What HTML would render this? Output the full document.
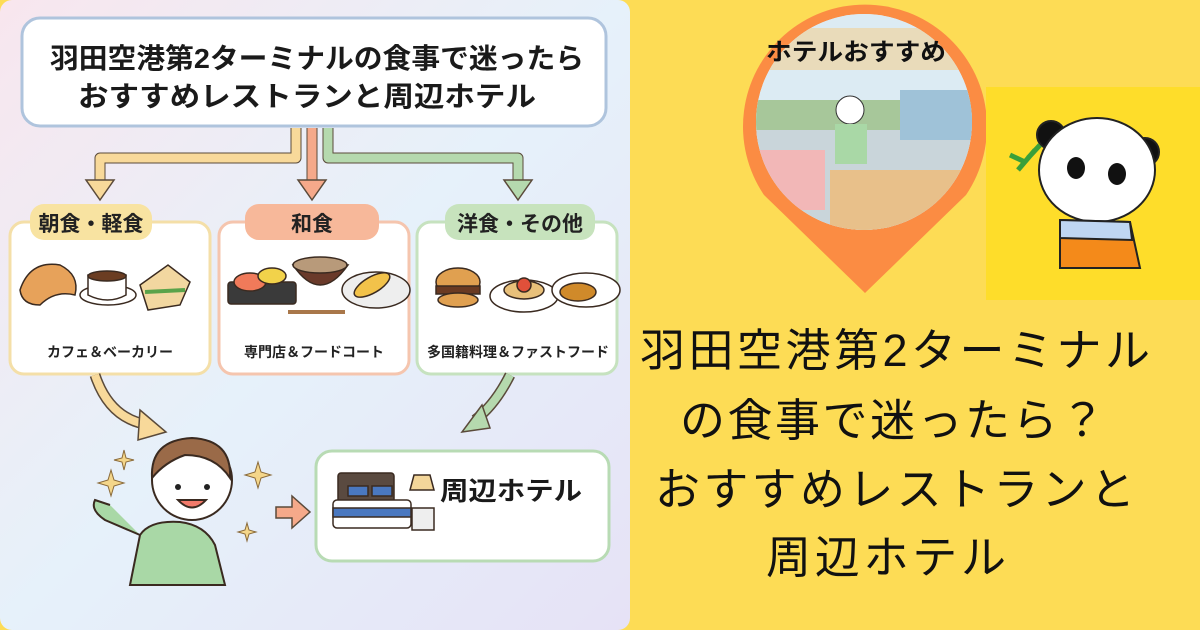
<!DOCTYPE html>
<html><head><meta charset="utf-8"><style>
html,body{margin:0;padding:0;width:1200px;height:630px;overflow:hidden;background:#FDDC55;}
svg text{font-family:"Liberation Sans","Noto Sans CJK JP",sans-serif;}
</style></head><body>
<svg width="1200" height="630" viewBox="0 0 1200 630" xmlns="http://www.w3.org/2000/svg">
<defs>
<linearGradient id="bg" x1="0" y1="0" x2="1" y2="1">
<stop offset="0" stop-color="#F8E6EE"/><stop offset="0.5" stop-color="#E6F1FA"/><stop offset="1" stop-color="#E6E2F6"/>
</linearGradient>
<clipPath id="pc"><circle cx="864" cy="122" r="108"/></clipPath>
</defs>
<rect x="0" y="0" width="1200" height="630" fill="#FDDC55"/>
<rect x="0" y="0" width="630" height="630" rx="12" fill="url(#bg)"/>
<rect x="22" y="18" width="584" height="108" rx="18" fill="#fff" stroke="#AFC4DD" stroke-width="3"/>
<text x="50" y="68" font-size="28" font-weight="bold" fill="#1a1a1a" textLength="534" lengthAdjust="spacingAndGlyphs">羽田空港第2ターミナルの食事で迷ったら</text>
<text x="78" y="106" font-size="28" font-weight="bold" fill="#1a1a1a" textLength="458" lengthAdjust="spacingAndGlyphs">おすすめレストランと周辺ホテル</text>
<g fill="none" stroke-width="9" stroke-linejoin="round">
<path d="M296 128 V158 H100 V180" stroke="#5a4a3a" stroke-width="11"/>
<path d="M296 128 V158 H100 V180" stroke="#F8D99A"/>
<path d="M312 128 V180" stroke="#5a4a3a" stroke-width="11"/>
<path d="M312 128 V180" stroke="#F5A98A"/>
<path d="M328 128 V158 H518 V180" stroke="#5a4a3a" stroke-width="11"/>
<path d="M328 128 V158 H518 V180" stroke="#B5D9AE"/>
</g>
<polygon points="86,180 114,180 100,200" fill="#F8D99A" stroke="#5a4a3a" stroke-width="1.5"/>
<polygon points="298,180 326,180 312,200" fill="#F5A98A" stroke="#5a4a3a" stroke-width="1.5"/>
<polygon points="504,180 532,180 518,200" fill="#B5D9AE" stroke="#5a4a3a" stroke-width="1.5"/>
<rect x="10" y="222" width="200" height="152" rx="14" fill="#fff" stroke="#F4DFA8" stroke-width="3"/>
<rect x="219" y="222" width="190" height="152" rx="14" fill="#fff" stroke="#F5C5AE" stroke-width="3"/>
<rect x="417" y="222" width="200" height="152" rx="14" fill="#fff" stroke="#C6E2BF" stroke-width="3"/>
<rect x="30" y="204" width="122" height="36" rx="14" fill="#F8E3A1"/>
<rect x="245" y="204" width="134" height="36" rx="14" fill="#F7B89A"/>
<rect x="445" y="204" width="150" height="36" rx="14" fill="#C7E3BD"/>
<text x="91" y="231" font-size="21" font-weight="bold" text-anchor="middle" fill="#222">朝食・軽食</text>
<text x="312" y="231" font-size="21" font-weight="bold" text-anchor="middle" fill="#222">和食</text>
<text x="520" y="231" font-size="21" font-weight="bold" text-anchor="middle" fill="#222">洋食・その他</text>
<g stroke="#3a2a20" stroke-width="1.5">
<path d="M20 290 Q30 260 60 265 Q80 275 75 295 Q55 290 40 305 Q22 305 20 290Z" fill="#E7A25A"/>
<ellipse cx="108" cy="295" rx="28" ry="10" fill="#fff"/>
<path d="M88 275 H126 V295 Q108 305 88 295Z" fill="#fff"/>
<ellipse cx="107" cy="276" rx="19" ry="5" fill="#6b3d22"/>
<path d="M140 285 L168 265 L190 282 L180 305 L148 310Z" fill="#F2D7A0"/>
<path d="M145 292 L185 290" stroke="#5aa34a" stroke-width="4"/>
<rect x="228" y="282" width="68" height="22" rx="3" fill="#3a3a3a"/>
<ellipse cx="250" cy="282" rx="16" ry="9" fill="#F07A5A"/>
<ellipse cx="272" cy="276" rx="14" ry="8" fill="#F2D24A"/>
<path d="M293 265 Q320 305 348 265Z" fill="#6a3a2a"/>
<ellipse cx="320" cy="265" rx="27" ry="8" fill="#b89a7a"/>
<path d="M288 312 H345" stroke-width="4" stroke="#a9774a"/>
<ellipse cx="376" cy="290" rx="34" ry="18" fill="#eee"/>
<ellipse cx="372" cy="285" rx="20" ry="8" fill="#F2C24A" transform="rotate(-30 372 285)"/>
<ellipse cx="458" cy="282" rx="22" ry="14" fill="#E0A050"/>
<rect x="436" y="286" width="44" height="8" fill="#6a3a22"/>
<ellipse cx="458" cy="300" rx="20" ry="7" fill="#E0A050"/>
<ellipse cx="524" cy="296" rx="34" ry="16" fill="#fff"/>
<ellipse cx="524" cy="290" rx="20" ry="9" fill="#E8C07A"/>
<circle cx="524" cy="285" r="7" fill="#E0503A"/>
<ellipse cx="586" cy="290" rx="34" ry="17" fill="#fff"/>
<ellipse cx="578" cy="292" rx="18" ry="9" fill="#D08A2A"/>
</g>
<text x="110" y="357" font-size="14" font-weight="bold" text-anchor="middle" fill="#222">カフェ＆ベーカリー</text>
<text x="314" y="357" font-size="14" font-weight="bold" text-anchor="middle" fill="#222">専門店＆フードコート</text>
<text x="518" y="357" font-size="14" font-weight="bold" text-anchor="middle" fill="#222">多国籍料理＆ファストフード</text>
<path d="M95 375 Q110 420 150 425" fill="none" stroke="#5a4a3a" stroke-width="11"/>
<path d="M95 375 Q110 420 150 425" fill="none" stroke="#F8D99A" stroke-width="8"/>
<polygon points="140,410 166,432 138,440" fill="#F8D99A" stroke="#5a4a3a" stroke-width="1.5"/>
<path d="M510 375 Q495 405 475 420" fill="none" stroke="#5a4a3a" stroke-width="11"/>
<path d="M510 375 Q495 405 475 420" fill="none" stroke="#B5D9AE" stroke-width="8"/>
<polygon points="482,405 462,432 490,428" fill="#B5D9AE" stroke="#5a4a3a" stroke-width="1.5"/>
<g stroke="#3a2a20" stroke-width="2">
<path d="M130 585 L140 535 Q150 520 180 522 Q205 525 215 545 L225 585Z" fill="#A9D8A6"/>
<path d="M140 535 L105 520 Q90 510 95 500 L110 505" fill="#A9D8A6"/>
<circle cx="192" cy="480" r="40" fill="#fff"/>
<path d="M152 478 Q150 440 192 438 Q232 440 230 478 Q215 455 185 455 Q165 462 152 478Z" fill="#9a6a48"/>
<path d="M178 500 Q192 515 206 500Z" fill="#F27A6A"/>
</g>
<circle cx="178" cy="487" r="3" fill="#222"/><circle cx="207" cy="487" r="3" fill="#222"/>
<g fill="#F4D68A" stroke="#8a6a3a" stroke-width="1">
<path d="M108 480 l3 -10 l3 10 l10 3 l-10 3 l-3 10 l-3 -10 l-10 -3Z"/>
<path d="M122 458 l2 -8 l2 8 l8 2 l-8 2 l-2 8 l-2 -8 l-8 -2Z"/>
<path d="M255 472 l3 -10 l3 10 l10 3 l-10 3 l-3 10 l-3 -10 l-10 -3Z"/>
<path d="M245 530 l2 -7 l2 7 l7 2 l-7 2 l-2 7 l-2 -7 l-7 -2Z"/>
</g>
<polygon points="276,507 292,507 292,496 310,512 292,528 292,518 276,518" fill="#F5A98A" stroke="#5a4a3a" stroke-width="1.5"/>
<rect x="316" y="451" width="293" height="110" rx="16" fill="#fff" stroke="#B8DBB4" stroke-width="3"/>
<g stroke="#3a2a20" stroke-width="1.5">
<rect x="338" y="473" width="56" height="40" rx="3" fill="#5a4a40"/>
<rect x="333" y="500" width="78" height="28" rx="4" fill="#fff"/>
<rect x="333" y="508" width="78" height="9" fill="#4a78c0"/>
<rect x="348" y="486" width="20" height="10" fill="#4a78c0"/>
<rect x="372" y="486" width="20" height="10" fill="#4a78c0"/>
<polygon points="414,475 430,475 434,490 410,490" fill="#F3D69A"/>
<rect x="412" y="508" width="22" height="22" fill="#eee"/>
</g>
<text x="440" y="500" font-size="26" font-weight="bold" fill="#1a1a1a" textLength="142" lengthAdjust="spacingAndGlyphs">周辺ホテル</text>
<path d="M764 195 A122 122 0 1 1 966 195 L865 293Z" fill="#FB8C43"/>
<circle cx="864" cy="122" r="108" fill="#E4EEF2"/>
<g clip-path="url(#pc)">
<rect x="750" y="10" width="230" height="220" fill="#DCEBF3"/>
<rect x="750" y="100" width="230" height="30" fill="#A7C79A"/>
<rect x="750" y="130" width="230" height="110" fill="#C9D5DA"/>
<rect x="900" y="90" width="80" height="50" fill="#9fc2d8"/>
<rect x="755" y="150" width="70" height="60" fill="#F2B7B7"/>
<rect x="830" y="170" width="140" height="70" fill="#E8C08A"/>
<circle cx="850" cy="110" r="14" fill="#fff" stroke="#333"/>
<rect x="835" y="124" width="32" height="40" fill="#A9D8A6"/>
<rect x="750" y="28" width="230" height="42" fill="#EAD9B4" opacity="0.9"/>
</g>
<text x="766" y="60" font-size="24" font-weight="bold" fill="#111" textLength="180" lengthAdjust="spacingAndGlyphs">ホテルおすすめ</text>
<rect x="986" y="87" width="214" height="213" fill="#FEDD2A"/>
<g stroke="#222" stroke-width="2">
<circle cx="1051" cy="135" r="14" fill="#111"/><circle cx="1145" cy="152" r="14" fill="#111"/>
<ellipse cx="1097" cy="170" rx="58" ry="52" fill="#fff"/>
<path d="M1060 220 L1130 222 L1140 268 L1060 268Z" fill="#F48A1A"/>
<path d="M1060 220 L1130 222 L1132 240 L1060 238Z" fill="#BFD6F2"/>
</g>
<ellipse cx="1076" cy="168" rx="9" ry="11" fill="#111"/><ellipse cx="1117" cy="174" rx="9" ry="11" fill="#111"/>
<path d="M1018 170 L1035 150 M1025 162 L1010 155 M1028 158 L1040 145" stroke="#3aa03a" stroke-width="5"/>
<g font-size="45" fill="#111" lengthAdjust="spacingAndGlyphs">
<text x="640" y="366" textLength="510">羽田空港第2ターミナル</text>
<text x="680" y="436" textLength="425">の食事で迷ったら？</text>
<text x="655" y="505" textLength="480">おすすめレストランと</text>
<text x="766" y="573" textLength="240">周辺ホテル</text>
</g>
</svg>
</body></html>
